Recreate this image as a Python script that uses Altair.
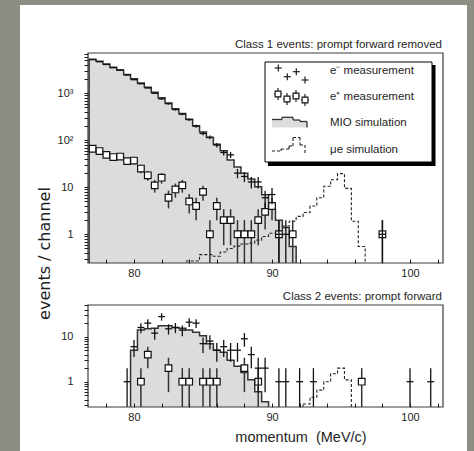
import json
import altair as alt
import pandas as pd

FONT = "Liberation Sans"
BG = "#8b8e82"
INK = "#1e1e1e"

# ---------------- data: Class 1 (top panel) ----------------
mio1_x = [77.0, 77.5, 78.0, 78.5, 79.0, 79.5, 80.0, 80.5, 81.0, 81.5, 82.0, 82.5, 83.0, 83.5, 84.0,
          84.5, 85.0, 85.5, 86.0, 86.5, 87.0, 87.5, 88.0, 88.5, 89.0, 89.5, 90.0, 90.5, 91.0, 91.5]
mio1_y = [5300, 4800, 4200, 3600, 3100, 2500, 2050, 1650, 1350, 1050, 800, 620, 470, 370, 280,
          205, 150, 115, 82, 60, 38, 27, 20, 15, 10.3, 6.9, 3.4, 2.0, 1.4, 0.55]

mue1_x = [84.0, 84.5, 85.0, 85.5, 86.0, 86.5, 87.0, 87.5, 88.0, 88.5, 89.0, 89.5, 90.0, 90.5, 91.0,
          91.5, 92.0, 92.5, 93.0, 93.5, 94.0, 94.5, 95.0, 95.5, 96.0, 96.5]
mue1_y = [0.27, 0.27, 0.37, 0.37, 0.34, 0.42, 0.5, 0.56, 0.62, 0.65, 0.75, 0.9, 1.05, 1.1, 1.5,
          1.9, 2.4, 2.9, 4.0, 6.0, 10.5, 14.5, 19.5, 9.5, 1.9, 0.55]

em1_x = [77.0, 77.5, 78.0, 78.5, 79.0, 79.5, 80.0, 80.5, 81.0, 81.5, 82.0, 82.5, 83.0, 83.5, 84.0,
         84.5, 85.0, 85.5, 86.0, 86.5, 87.0, 87.5, 88.0, 88.5, 89.0, 89.5, 90.0, 90.5, 91.0, 98.0]
em1_y = [5200, 4700, 4100, 3500, 3150, 2450, 1950, 1600, 1300, 1000, 760, 600, 450, 360, 275,
         200, 140, 116, 79, 55, 49, 20, 17, 13, 13, 6, 7, 1, 1, 1]

ep1_x = [77.0, 77.5, 78.0, 78.5, 79.0, 79.5, 80.0, 80.5, 81.0, 81.5, 82.0, 82.5, 83.0, 83.5, 84.0,
         84.5, 85.0, 85.5, 86.0, 86.5, 87.0, 87.5, 88.0, 88.5, 89.0, 89.5, 90.0, 90.5, 91.5, 98.0]
ep1_y = [66, 59, 49, 44, 45, 36, 37, 25, 18, 11, 16, 6, 9, 11, 5,
         4, 8, 1, 4, 2, 2, 1, 1, 1, 2, 3, 4, 1, 1, 1]

# ---------------- data: Class 2 (bottom panel) ----------------
mio2_x = [80.0, 80.5, 81.0, 81.5, 82.0, 82.5, 83.0, 83.5, 84.0, 84.5, 85.0, 85.5, 86.0, 86.5, 87.0,
          87.5, 88.0, 88.5, 89.0, 89.5]
mio2_y = [5, 14, 15, 15.5, 17.5, 17.5, 16, 15.5, 14, 12.5, 10.5, 7, 5, 4.5, 3.0,
          2.2, 1.6, 1.1, 0.6, 0.36]

mue2_x = [92.5, 93.0, 93.5, 94.0, 94.5, 95.0, 95.5]
mue2_y = [0.32, 0.45, 0.65, 1.0, 1.5, 2.0, 1.1]

em2_x = [79.5, 80.0, 80.5, 81.0, 81.5, 82.0, 82.5, 83.0, 83.5, 84.0, 84.5, 85.0, 85.5, 86.0, 86.5,
         87.0, 87.5, 88.0, 88.5, 89.0, 89.5, 90.5, 91.0, 92.0, 93.0, 100.0, 101.5]
em2_y = [1, 6, 16, 20, 12, 28, 15, 16, 14, 21, 20, 7, 8, 5, 6,
         5, 5, 9, 4, 2, 2, 1, 1, 1, 1, 1, 1]

ep2_x = [80.5, 81.0, 82.5, 83.5, 84.0, 85.0, 85.5, 86.0, 88.0, 89.0, 96.5]
ep2_y = [1, 4, 2, 1, 1, 1, 1, 1, 2, 1, 1]

# ---------------- axis labels ----------------
x_ticks = [78, 80, 82, 84, 86, 88, 90, 92, 94, 96, 98, 100, 102]
x_labels = [80, 90, 100]
y1_label_values = [1, 10, 100, 1000]
y1_label_texts = ["1", "10", "10\u00b2", "10\u00b3"]
y2_label_values = [1, 10]
y2_label_texts = ["1", "10"]
legend_texts = ["e\u207b measurement", "e\u207a measurement", "MIO simulation", "\u03bce simulation"]
title1 = "Class 1 events: prompt forward removed"
title2 = "Class 2 events: prompt forward"
y_title = "events / channel"
x_title = "momentum\u00a0 (MeV/c)"

# ---------------- layout ----------------
W, H1, H2, GAP = 355, 210, 102, 42
X_DOMAIN = [76.667, 102.39]
Y1_DOMAIN = [0.245, 7200]
Y2_DOMAIN = [0.274, 50.6]
XS = alt.Scale(domain=X_DOMAIN, nice=False, zero=False)
ONE = alt.Data(values=[{"k": 0}])


def decade_ticks(lo, hi):
    out, d = [], 0.1
    while d <= hi:
        for k in range(1, 10):
            t = round(k * d, 6)
            if lo <= t <= hi:
                out.append(t)
        d *= 10
    return out


def label_expr(vals, texts):
    expr = "''"
    for v, t in reversed(list(zip(vals, texts))):
        expr = f"datum.value == {v} ? '{t}' : ({expr})"
    return expr


def x_axis(**kw):
    return alt.Axis(values=x_ticks,
                    labelExpr=f"indexof({json.dumps(x_labels)}, datum.value) >= 0 ? datum.label : ''",
                    offset=-4, tickSize=4, tickColor=INK, tickWidth=1, domain=False, grid=False,
                    labelFont=FONT, labelFontSize=11, labelColor=INK, labelPadding=4,
                    labelOverlap=False, labelFlush=False, zindex=2, **kw)


def y_axis(ticks, vals, texts, **kw):
    return alt.Axis(values=ticks, labelExpr=label_expr(vals, texts),
                    tickSize=4, tickColor=INK, tickWidth=1, domain=False, grid=False,
                    labelFont=FONT, labelFontSize=11, labelColor=INK, labelPadding=11,
                    labelOverlap=False, labelFlush=False, zindex=2, **kw)


def hist_df(xs, ys):
    edges = [x - 0.25 for x in xs] + [xs[-1] + 0.25]
    vals = list(ys) + [ys[-1]]
    return pd.DataFrame({"m": edges, "v": vals, "b": [1e-4] * len(edges)})


def seg(x1, y1, x2, y2, color=INK, width=1.0, dash=None):
    kw = dict(color=color, strokeWidth=width)
    if dash:
        kw["strokeDash"] = dash
    return alt.Chart(ONE).mark_rule(**kw).encode(
        x=alt.value(x1), y=alt.value(y1), x2=alt.value(x2), y2=alt.value(y2))


def box(x1, y1, x2, y2, **kw):
    return alt.Chart(ONE).mark_rect(**kw).encode(
        x=alt.value(x1), x2=alt.value(x2), y=alt.value(y1), y2=alt.value(y2))


def measurement(xs, ys, ysc, xa, ya, color, width, square):
    df = pd.DataFrame({"m": xs, "v": ys})
    base = alt.Chart(df).transform_calculate(
        lo="max(datum.v - sqrt(datum.v), 0.0001)",
        hi="datum.v + sqrt(datum.v)",
        ml="datum.m - 0.25",
        mr="datum.m + 0.25")
    out = [
        base.mark_rule(color=color, strokeWidth=width, clip=True).encode(
            x=alt.X("m:Q", scale=XS, axis=xa),
            y=alt.Y("lo:Q", scale=ysc, axis=ya), y2="hi:Q"),
        base.mark_rule(color=color, strokeWidth=width, clip=True).encode(
            x=alt.X("ml:Q", scale=XS, axis=xa), x2="mr:Q",
            y=alt.Y("v:Q", scale=ysc, axis=ya)),
    ]
    if square:
        out.append(base.mark_square(size=44, fill="white", stroke="#111", strokeWidth=1.2,
                                    opacity=1, fillOpacity=1, clip=True).encode(
            x=alt.X("m:Q", scale=XS, axis=xa), y=alt.Y("v:Q", scale=ysc, axis=ya)))
    return out


def panel(h, ydom, yticks, yvals, ytexts, mio, mue, em, ep, title, xkw, ykw, front, back):
    ysc = alt.Scale(type="log", domain=ydom, nice=False)
    xa = x_axis(**xkw)
    ya = y_axis(yticks, yvals, ytexts, **ykw)
    layers = list(front)
    layers.append(alt.Chart(hist_df(*mio)).mark_area(
        interpolate="step-after", fill="#dcdcdc", stroke="#333", strokeWidth=1.5, clip=True).encode(
        x=alt.X("m:Q", scale=XS, axis=xa),
        y=alt.Y("v:Q", scale=ysc, axis=ya),
        y2="b:Q"))
    layers.append(alt.Chart(hist_df(*mue)).mark_area(
        interpolate="step-after", fillOpacity=0, stroke="#222", strokeWidth=1.1,
        strokeDash=[3, 2], clip=True).encode(
        x=alt.X("m:Q", scale=XS, axis=xa),
        y=alt.Y("v:Q", scale=ysc, axis=ya), y2="b:Q"))
    layers += measurement(*ep, ysc, xa, ya, "#333", 1.5, True)
    layers += measurement(*em, ysc, xa, ya, "#111", 1.3, False)
    layers.append(alt.Chart(ONE).mark_text(
        text=title, align="right", baseline="middle", font=FONT, fontSize=11.5, color=INK).encode(
        x=alt.value(W - 1), y=alt.value(-8)))
    layers += back
    layers.append(box(0, 0, W, h, filled=False, color="#3c3c3c", strokeWidth=1.2))
    return alt.layer(*layers).properties(width=W, height=h)


# ---------------- legend (decoration, pixel positions) ----------------
legend = [box(180, 12, 347.5, 113, color="black"),
          box(177, 9, 344, 109, fill="white", stroke="black", strokeWidth=1)]
for (cx, cy) in [(190.3, 15), (199.3, 23.7), (208.3, 18.7), (217, 27)]:
    legend += [seg(cx - 3.5, cy, cx + 3.5, cy, width=1.2), seg(cx, cy - 3.5, cx, cy + 3.5, width=1.2)]
for (cx, cy) in [(190, 41), (199, 46), (208, 43), (217, 47)]:
    legend += [seg(cx, cy - 6, cx, cy + 6, color="#333", width=1.3),
               seg(cx - 4, cy, cx + 4, cy, color="#333", width=1.3),
               alt.Chart(ONE).mark_square(size=34, fill="white", stroke="#111", strokeWidth=1.1,
                                          opacity=1, fillOpacity=1).encode(
                   x=alt.value(cx), y=alt.value(cy))]
mio_steps = [(184, 194, 66.5), (194, 205, 64.3), (205, 212, 67), (212, 219, 68.5)]
for (a, b, yy) in mio_steps:
    legend.append(box(a, yy, b, 74.5, color="#dcdcdc"))
prev = None
for (a, b, yy) in mio_steps:
    if prev is not None:
        legend.append(seg(a, prev, a, yy, color="#333", width=1.3))
    legend.append(seg(a, yy, b, yy, color="#333", width=1.3))
    prev = yy
legend.append(seg(219, prev, 219, 74.5, color="#333", width=1.3))
mue_pts = [(184, 98), (193, 98), (193, 96), (201, 96), (201, 93), (205, 93), (205, 84.5),
           (212, 84.5), (212, 92), (217, 92), (217, 101)]
for p, q in zip(mue_pts[:-1], mue_pts[1:]):
    legend.append(seg(p[0], p[1], q[0], q[1], color="#222", width=1.1, dash=[3, 2]))
for t, yy in zip(legend_texts, [18, 44.3, 70.3, 96.7]):
    legend.append(alt.Chart(ONE).mark_text(
        text=t, align="left", baseline="middle", font=FONT, fontSize=11.5, color=INK).encode(
        x=alt.value(242), y=alt.value(yy)))

white_panel = box(-68, -48, 379, 398, color="white")

top = panel(H1, Y1_DOMAIN, decade_ticks(*Y1_DOMAIN), y1_label_values, y1_label_texts,
            (mio1_x, mio1_y), (mue1_x, mue1_y), (em1_x, em1_y), (ep1_x, ep1_y), title1,
            dict(title=None),
            dict(title=y_title, titleFont="DejaVu Sans", titleFontSize=16, titleFontWeight="normal",
                 titleColor=INK, titleAngle=270, titleX=-44, titleY=200, titleAlign="center",
                 titleBaseline="middle"),
            [white_panel], legend)

bottom = panel(H2, Y2_DOMAIN, decade_ticks(*Y2_DOMAIN), y2_label_values, y2_label_texts,
               (mio2_x, mio2_y), (mue2_x, mue2_y), (em2_x, em2_y), (ep2_x, ep2_y), title2,
               dict(title=x_title, titleFont=FONT, titleFontSize=14.5, titleFontWeight="normal",
                    titleColor=INK, titleX=212.5, titleY=38.7, titleAlign="center",
                    titleBaseline="alphabetic"),
               dict(title=None),
               [], [])

chart = alt.vconcat(top, bottom, spacing=GAP, bounds="flush").properties(
    padding={"left": 20, "top": 5, "right": 7, "bottom": 0}
).configure(background=BG, font=FONT).configure_view(strokeWidth=0)

chart.save("out.html", embed_options={"renderer": "svg", "actions": False})
